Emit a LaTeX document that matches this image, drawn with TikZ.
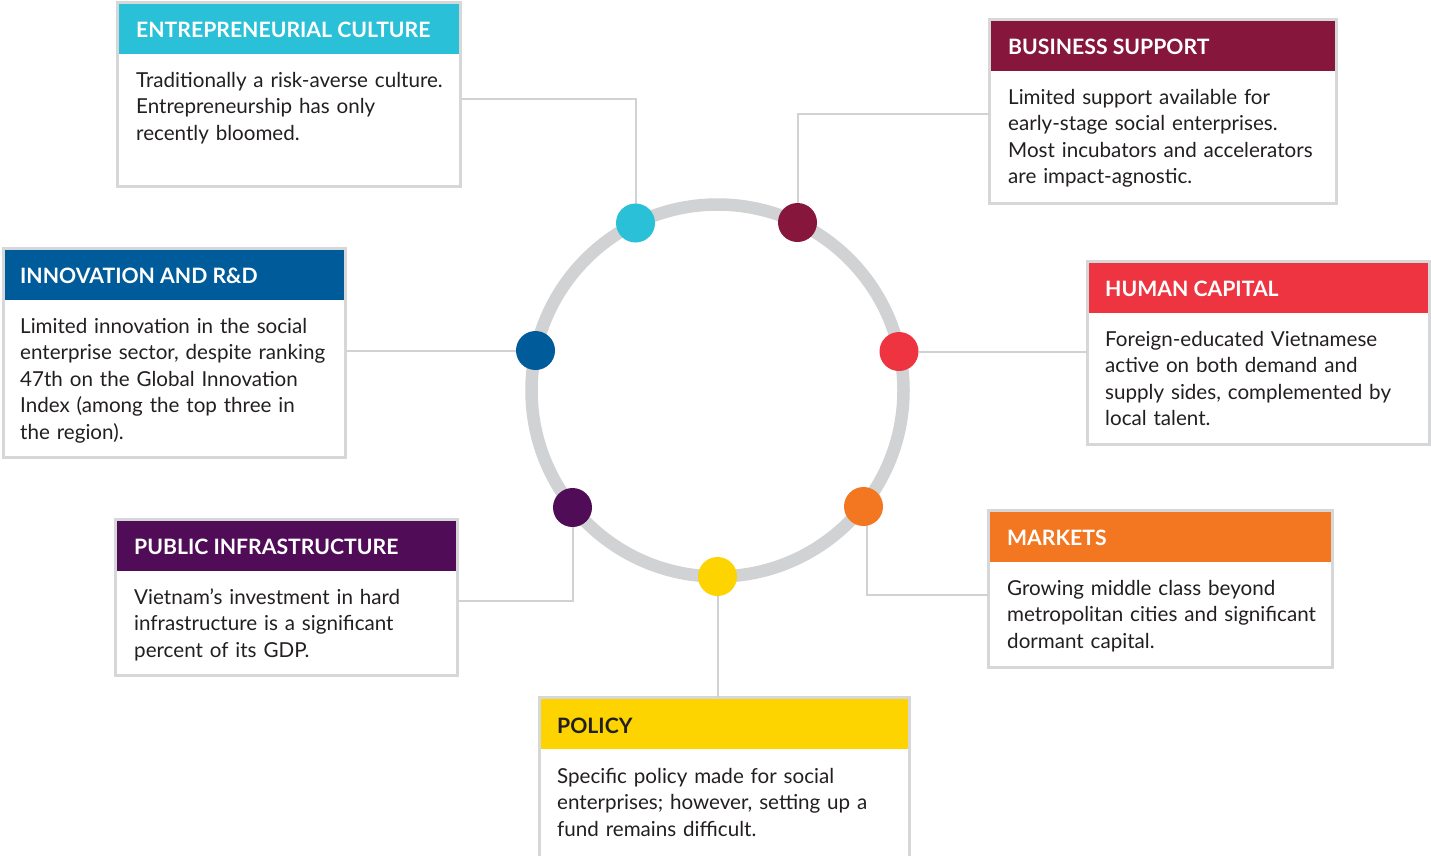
\documentclass[tikz,border=0pt]{standalone}
\usepackage{fontspec}
\setmainfont{Lato}
\definecolor{ringgray}{HTML}{D1D2D4}
\definecolor{bordergray}{HTML}{D6D7D9}
\definecolor{txt}{HTML}{231F20}
\definecolor{ccyan}{HTML}{29C0D8}
\definecolor{cmaroon}{HTML}{87163C}
\definecolor{cblue}{HTML}{005B9A}
\definecolor{cred}{HTML}{EE3440}
\definecolor{cpurple}{HTML}{510C58}
\definecolor{corange}{HTML}{F37721}
\definecolor{cyellow}{HTML}{FDD300}
\tikzset{
  panel/.style={draw=bordergray, line width=3pt, fill=white, anchor=north west, inner sep=0pt, outer sep=0pt},
  header/.style={anchor=north west, inner sep=0pt, outer sep=0pt, minimum height=50pt},
  htext/.style={anchor=base west, inner sep=0pt, font=\fontsize{21.2}{24}\selectfont\bfseries, text=white},
  btext/.style={anchor=base west, inner sep=0pt, text width=340pt, align=left, font=\fontsize{20.6}{26.5}\selectfont, text=txt},
  conn/.style={draw=ringgray, line width=2pt},
  dot/.style={circle, inner sep=0pt, outer sep=0pt, minimum size=39pt},
}
\begin{document}
\begin{tikzpicture}[x=1pt, y=-1pt]
\useasboundingbox (0,0) rectangle (1431,855);
\clip (0,0) rectangle (1431,855);
\fill[white] (0,0) rectangle (1431,855);

% ring
\draw[ringgray, line width=12.5pt] (717.5,390.5) circle[radius=186pt];

% dots (positions)
\node[dot] (d1) at (635.5,223) {};
\node[dot] (d2) at (797.5,222.5) {};
\node[dot] (d3) at (535.5,350.5) {};
\node[dot] (d4) at (899,351.5) {};
\node[dot] (d5) at (572.5,507.5) {};
\node[dot] (d6) at (863.5,506.5) {};
\node[dot] (d7) at (717.5,576.5) {};

% panels
\node[panel, minimum width=343pt, minimum height=184pt] (ec) at (117.5,2.5) {};
\node[panel, minimum width=347pt, minimum height=184pt] (bs) at (989.5,19.5) {};
\node[panel, minimum width=342pt, minimum height=209pt] (inn) at (3.5,248.5) {};
\node[panel, minimum width=342pt, minimum height=183pt] (hc) at (1087.5,261.5) {};
\node[panel, minimum width=342pt, minimum height=156pt] (pi) at (115.5,519.5) {};
\node[panel, minimum width=344pt, minimum height=157pt] (mk) at (988.5,510.5) {};
\node[panel, minimum width=370pt, minimum height=200pt] (po) at (539.5,697.5) {};

% connectors
\draw[conn] (ec.east |- 0,99) -| (d1);
\draw[conn] (bs.west |- 0,114) -| (d2);
\draw[conn] (inn.east |- d3) -- (d3);
\draw[conn] (hc.west |- d4) -- (d4);
\draw[conn] (pi.east |- 0,601) -| (d5);
\draw[conn] (mk.west |- 0,595) -| ([xshift=3pt]d6.center);
\draw[conn] (d7) -- (po.north -| d7);

% redraw dots on top
\node[dot, fill=ccyan] at (d1) {};
\node[dot, fill=cmaroon] at (d2) {};
\node[dot, fill=cblue] at (d3) {};
\node[dot, fill=cred] at (d4) {};
\node[dot, fill=cpurple] at (d5) {};
\node[dot, fill=corange] at (d6) {};
\node[dot, fill=cyellow] at (d7) {};

% headers
\node[header, fill=ccyan, minimum width=340pt] (ech) at (119,4) {};
\node[header, fill=cmaroon, minimum width=344pt] (bsh) at (991,21) {};
\node[header, fill=cblue, minimum width=339pt] (innh) at (5,250) {};
\node[header, fill=cred, minimum width=339pt] (hch) at (1089,263) {};
\node[header, fill=cpurple, minimum width=339pt] (pih) at (117,521) {};
\node[header, fill=corange, minimum width=341pt] (mkh) at (990,512) {};
\node[header, fill=cyellow, minimum width=367pt] (poh) at (541,699) {};

% header texts
\node[htext] (ect) at (136,37) {ENTREPRENEURIAL CULTURE};
\node[htext] (bst) at (1008,54) {BUSINESS SUPPORT};
\node[htext] (innt) at (20,283) {INNOVATION AND R\&D};
\node[htext] (hct) at (1105,296) {HUMAN CAPITAL};
\node[htext] (pit) at (134,554) {PUBLIC INFRASTRUCTURE};
\node[htext] (mkt) at (1007,545) {MARKETS};
\node[htext, text=txt] (pot) at (557,733) {POLICY};

% body texts
\node[btext] (ecb) at (136,87) {Traditionally a risk-averse culture.\\Entrepreneurship has only\\recently bloomed.};
\node[btext] (bsb) at (1008,104) {Limited support available for\\early-stage social enterprises.\\Most incubators and accelerators\\are impact-agnostic.};
\node[btext] (innb) at (20,333) {Limited innovation in the social\\enterprise sector, despite ranking\\47th on the Global Innovation\\Index (among the top three in\\the region).};
\node[btext] (hcb) at (1105,346) {Foreign-educated Vietnamese\\active on both demand and\\supply sides, complemented by\\local talent.};
\node[btext] (pib) at (134,604) {Vietnam's investment in hard\\infrastructure is a significant\\percent of its GDP.};
\node[btext] (mkb) at (1007,595) {Growing middle class beyond\\metropolitan cities and significant\\dormant capital.};
\node[btext] (pob) at (557,783) {Specific policy made for social\\enterprises; however, setting up a\\fund remains difficult.};
\end{tikzpicture}
\end{document}
